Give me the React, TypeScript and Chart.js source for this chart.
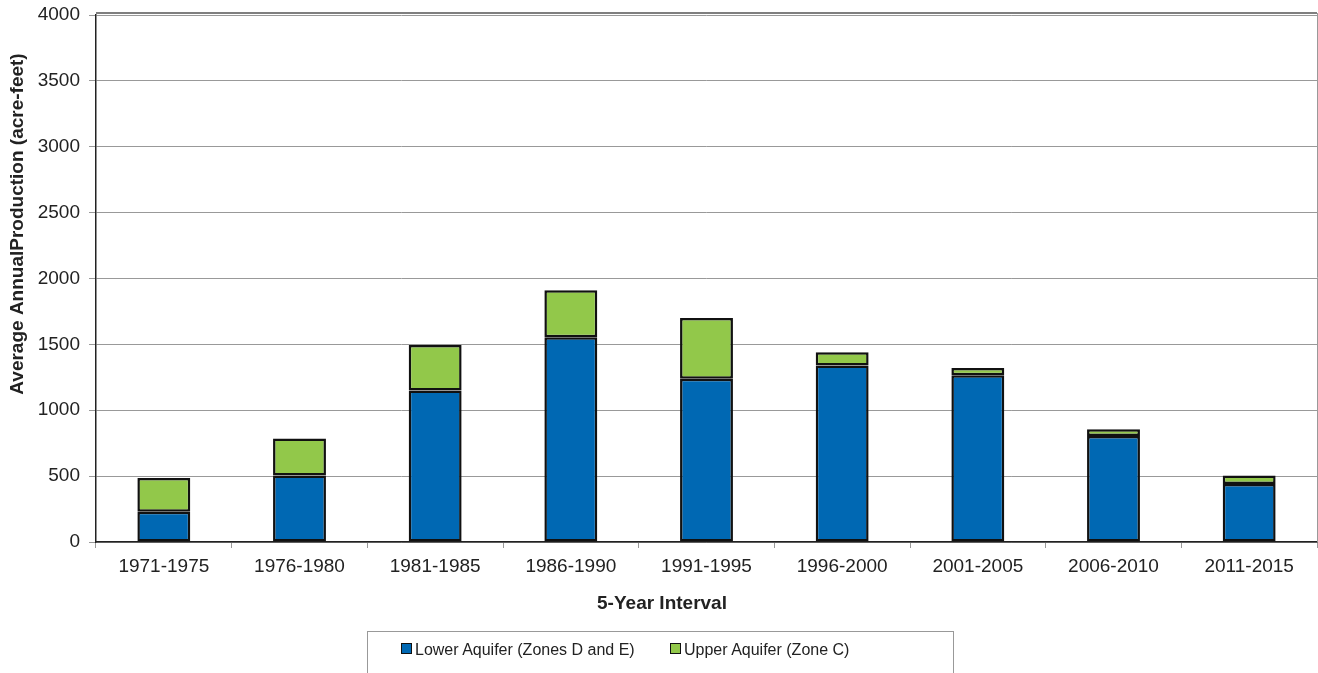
import React, { useEffect, useRef } from "react";
import { Chart, registerables } from "chart.js";

Chart.register(...registerables);

const categories = [
  "1971-1975",
  "1976-1980",
  "1981-1985",
  "1986-1990",
  "1991-1995",
  "1996-2000",
  "2001-2005",
  "2006-2010",
  "2011-2015",
];
const lowerAquifer = [230, 505, 1150, 1555, 1240, 1340, 1265, 805, 440];
const upperAquifer = [255, 280, 345, 355, 460, 100, 55, 50, 65];
const seriesNames = ["Lower Aquifer (Zones D and E)", "Upper Aquifer (Zone C)"];
const yTitle = "Average AnnualProduction (acre-feet)";
const xTitle = "5-Year Interval";

const BLUE = "#0068B3";
const GREEN = "#92C84A";
const FONT = "'Liberation Sans', Arial, sans-serif";

export default function App() {
  const ref = useRef<HTMLCanvasElement | null>(null);

  useEffect(() => {
    document.body.style.margin = "0";
    const canvas = ref.current;
    if (!canvas) return;

    const titlesPlugin = {
      id: "customTitles",
      afterDraw(chart: any) {
        const ctx = chart.ctx;
        const { top, left, right } = chart.chartArea;
        ctx.save();
        ctx.strokeStyle = "#555";
        ctx.lineWidth = 1.5;
        ctx.beginPath();
        ctx.moveTo(left, top - 2);
        ctx.lineTo(right, top - 2);
        ctx.stroke();
        ctx.strokeStyle = "#999";
        ctx.lineWidth = 1;
        ctx.beginPath();
        ctx.moveTo(right + 0.5, top - 2);
        ctx.lineTo(right + 0.5, chart.chartArea.bottom);
        ctx.stroke();

        ctx.fillStyle = "#222";
        ctx.font = `bold 19px ${FONT}`;
        ctx.textAlign = "center";
        ctx.textBaseline = "middle";
        ctx.fillText(xTitle, 662, 604);
        ctx.translate(18, 224);
        ctx.rotate(-Math.PI / 2);
        ctx.fillText(yTitle, 0, 0);
        ctx.restore();
      },
    };

    const chart = new Chart(canvas, {
      type: "bar",
      data: {
        labels: categories,
        datasets: [
          {
            label: seriesNames[0],
            data: lowerAquifer,
            backgroundColor: BLUE,
            borderColor: "#111",
            borderWidth: 2.5,
            borderSkipped: false,
          },
          {
            label: seriesNames[1],
            data: upperAquifer,
            backgroundColor: GREEN,
            borderColor: "#111",
            borderWidth: 2.5,
            borderSkipped: false,
          },
        ],
      },
      options: {
        animation: false,
        responsive: false,
        devicePixelRatio: 1,
        layout: { padding: { left: 0, right: 1, top: 15, bottom: 0 } },
        datasets: { bar: { barPercentage: 0.39, categoryPercentage: 1 } },
        plugins: {
          legend: { display: false },
          tooltip: { enabled: false },
          title: { display: false },
        },
        scales: {
          x: {
            stacked: true,
            afterFit(scale: any) {
              scale.height = 131;
            },
            grid: {
              drawOnChartArea: false,
              drawTicks: true,
              tickLength: 6,
              color: "#999",
              offset: true,
            },
            border: { color: "#222", width: 1.5 },
            ticks: {
              color: "#222",
              font: { family: FONT, size: 19 },
              padding: 7,
              maxRotation: 0,
              autoSkip: false,
            },
          },
          y: {
            stacked: true,
            min: 0,
            max: 4000,
            afterFit(scale: any) {
              scale.width = 96;
              scale.paddingTop = 0;
              scale.paddingBottom = 0;
            },
            grid: { color: "#999", lineWidth: 1, tickLength: 7 },
            border: { color: "#222", width: 1.5 },
            ticks: {
              stepSize: 500,
              color: "#222",
              font: { family: FONT, size: 19 },
              padding: 9,
              callback: (v: any) => String(v),
            },
          },
        },
      },
      plugins: [titlesPlugin],
    });

    return () => chart.destroy();
  }, []);

  const legendText: React.CSSProperties = {
    position: "absolute",
    top: 638,
    fontFamily: FONT,
    fontSize: 16,
    color: "#222",
    lineHeight: "24px",
    whiteSpace: "nowrap",
  };
  const marker = (left: number, color: string): React.CSSProperties => ({
    position: "absolute",
    left,
    top: 643,
    width: 9,
    height: 9,
    background: color,
    border: "1.5px solid #111",
  });

  return (
    <div
      style={{
        position: "absolute",
        left: 0,
        top: 0,
        width: 1318,
        height: 673,
        overflow: "hidden",
        background: "#fff",
      }}
    >
      <canvas ref={ref} width={1318} height={673} style={{ display: "block" }} />
      <div
        style={{
          position: "absolute",
          left: 367,
          top: 631,
          width: 587,
          height: 60,
          border: "1px solid #999",
          boxSizing: "border-box",
        }}
      />
      <div style={marker(401, BLUE)} />
      <span style={{ ...legendText, left: 415 }}>{seriesNames[0]}</span>
      <div style={marker(670, GREEN)} />
      <span style={{ ...legendText, left: 684 }}>{seriesNames[1]}</span>
    </div>
  );
}
